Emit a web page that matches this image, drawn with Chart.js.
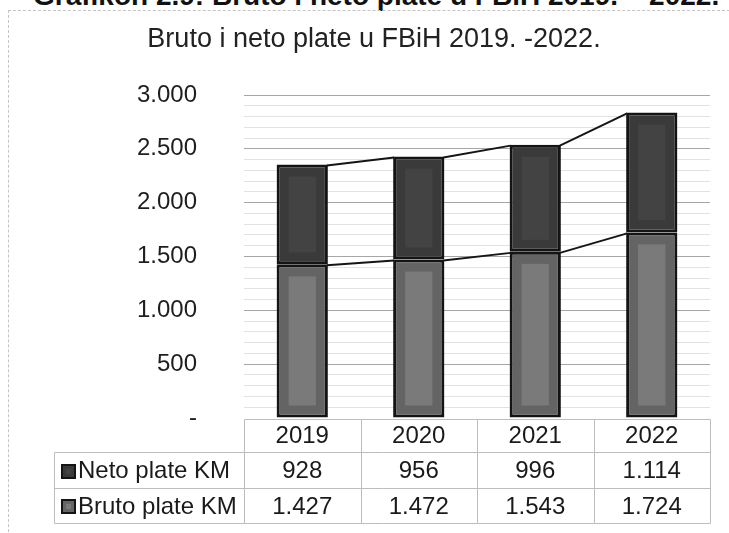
<!DOCTYPE html>
<html><head><meta charset="utf-8">
<script src="https://cdn.jsdelivr.net/npm/chart.js@4.4.0/dist/chart.umd.min.js"></script>
<style>
html,body{margin:0;padding:0;background:#fff;overflow:hidden;}
#wrap{position:relative;width:729px;height:533px;overflow:hidden;}
#frame{position:absolute;left:8px;top:10px;width:760px;height:560px;border:1px dashed #c4c4c4;}
#head{position:absolute;left:33px;top:-18px;font:bold 28px "Liberation Sans",Arial,sans-serif;line-height:28px;color:#111;white-space:nowrap;}
canvas{position:absolute;left:0;top:0;}
</style></head>
<body><div id="wrap"><div id="head">Grafikon 2.9: Bruto i neto plate u FBiH 2019. – 2022.</div><div id="frame"></div><canvas id="c" width="729" height="533" style="width:729px;height:533px"></canvas></div>
<script>
const categories = ['2019', '2020', '2021', '2022'];
const netoValues = [928, 956, 996, 1114];
const brutoValues = [1427, 1472, 1543, 1724];
const netoLabel = 'Neto plate KM';
const brutoLabel = 'Bruto plate KM';
const titleText = 'Bruto i neto plate u FBiH 2019. -2022.';
const yMin = 0, yMax = 3000, yMajorStep = 500, yMinorStep = 100;

const FONT = '"Liberation Sans", Arial, sans-serif';
function fmt(v) {
  if (v === 0) return '-';
  return String(v).replace(/\B(?=(\d{3})+(?!\d))/g, '.');
}

const chartTitle = {
  id: 'chartTitle',
  afterDraw(chart) {
    const ctx = chart.ctx;
    ctx.save();
    ctx.fillStyle = '#222';
    ctx.font = '27px ' + FONT;
    ctx.textAlign = 'center';
    ctx.textBaseline = 'middle';
    ctx.fillText(titleText, 374, 40);
    ctx.restore();
  }
};

const innerShade = {
  id: 'innerShade',
  afterDatasetsDraw(chart) {
    const ctx = chart.ctx;
    chart.data.datasets.forEach((ds, di) => {
      const meta = chart.getDatasetMeta(di);
      meta.data.forEach(el => {
        const p = el.getProps(['x', 'y', 'base', 'width'], true);
        const top = Math.min(p.y, p.base), h = Math.abs(p.base - p.y);
        const ix = 12, iy = 12;
        if (h > 2 * iy) {
          ctx.save();
          ctx.fillStyle = ds.innerColor;
          ctx.fillRect(p.x - p.width / 2 + ix, top + iy, p.width - 2 * ix, h - 2 * iy);
          ctx.restore();
        }
      });
    });
  }
};

const seriesLines = {
  id: 'seriesLines',
  afterDatasetsDraw(chart) {
    const ctx = chart.ctx;
    ctx.save();
    ctx.strokeStyle = '#151515';
    ctx.lineWidth = 2;
    chart.data.datasets.forEach((ds, di) => {
      const els = chart.getDatasetMeta(di).data;
      for (let i = 0; i < els.length - 1; i++) {
        const a = els[i].getProps(['x', 'y', 'width'], true);
        const b = els[i + 1].getProps(['x', 'y', 'width'], true);
        ctx.beginPath();
        ctx.moveTo(a.x + a.width / 2 - 1, a.y + 1);
        ctx.lineTo(b.x - b.width / 2 + 1, b.y + 1);
        ctx.stroke();
      }
    });
    ctx.restore();
  }
};

const dataTable = {
  id: 'dataTable',
  afterDraw(chart) {
    const ctx = chart.ctx;
    const area = chart.chartArea;
    const xs = chart.scales.x;
    const n = categories.length;
    const colW = (area.right - area.left) / n;
    const edges = [];
    for (let i = 0; i < n; i++) edges.push(xs.getPixelForValue(i) - colW / 2);
    edges.push(xs.getPixelForValue(n - 1) + colW / 2);
    const tableLeft = 54;
    const y0 = area.bottom + 1;
    const y1 = y0 + 33;
    const y2 = y1 + 36;
    const y3 = y2 + 35;
    ctx.save();
    ctx.strokeStyle = '#bdbdbd';
    ctx.lineWidth = 1;
    const line = (xa, ya, xb, yb) => { ctx.beginPath(); ctx.moveTo(Math.round(xa) + 0.5, Math.round(ya) + 0.5); ctx.lineTo(Math.round(xb) + 0.5, Math.round(yb) + 0.5); ctx.stroke(); };
    line(edges[0], y0, edges[n], y0);
    line(tableLeft, y1, edges[n], y1);
    line(tableLeft, y2, edges[n], y2);
    line(tableLeft, y3, edges[n], y3);
    line(tableLeft, y1, tableLeft, y3);
    edges.forEach(e => line(e, y0, e, y3));

    ctx.fillStyle = '#1a1a1a';
    ctx.font = '24px ' + FONT;
    ctx.textAlign = 'center';
    ctx.textBaseline = 'middle';
    categories.forEach((c, i) => ctx.fillText(c, xs.getPixelForValue(i), (y0 + y1) / 2 + 1));
    const rows = [
      { label: netoLabel, vals: netoValues, ds: chart.data.datasets[1], top: y1, bot: y2 },
      { label: brutoLabel, vals: brutoValues, ds: chart.data.datasets[0], top: y2, bot: y3 }
    ];
    rows.forEach(r => {
      const cy = (r.top + r.bot) / 2 + 1.5;
      ctx.fillStyle = '#1a1a1a';
      ctx.textAlign = 'center';
      r.vals.forEach((v, i) => ctx.fillText(fmt(v), xs.getPixelForValue(i), cy));
      ctx.textAlign = 'left';
      ctx.fillText(r.label, 78, cy);
      const kx = 61, ky = Math.round(cy - 8), ks = 15;
      ctx.fillStyle = '#141414';
      ctx.fillRect(kx, ky, ks, ks);
      ctx.fillStyle = r.ds.backgroundColor;
      ctx.fillRect(kx + 2, ky + 2, ks - 4, ks - 4);
      ctx.fillStyle = r.ds.innerColor;
      ctx.fillRect(kx + 5, ky + 5, ks - 10, ks - 10);
    });
    ctx.restore();
  }
};

new Chart(document.getElementById('c'), {
  type: 'bar',
  data: {
    labels: categories,
    datasets: [
      { label: brutoLabel, data: brutoValues, stack: 's', backgroundColor: '#646464', innerColor: '#7a7a7a', borderColor: '#141414', borderWidth: 3, borderSkipped: false },
      { label: netoLabel, data: netoValues, stack: 's', backgroundColor: '#3a3a3a', innerColor: '#434343', borderColor: '#141414', borderWidth: 3, borderSkipped: false }
    ]
  },
  options: {
    responsive: false,
    animation: false,
    events: [],
    layout: { padding: { left: 13, right: 19, top: 95, bottom: 115 } },
    datasets: { bar: { categoryPercentage: 1, barPercentage: 0.44 } },
    plugins: {
      legend: { display: false },
      tooltip: { enabled: false },
      title: { display: false }
    },
    scales: {
      x: { display: false, stacked: true, grid: { display: false } },
      y: {
        stacked: true, min: yMin, max: yMax,
        border: { display: false },
        afterFit(s) { s.width = 231; },
        grid: {
          drawTicks: false,
          color: ctx => (ctx.tick.value % yMajorStep === 0 ? (ctx.tick.value === 0 ? 'rgba(0,0,0,0)' : '#a6a6a6') : '#e2e2e2'),
          lineWidth: 1
        },
        ticks: {
          stepSize: yMinorStep, padding: 47, color: '#1e1e1e',
          font: { family: FONT, size: 24 },
          autoSkip: false,
          callback: v => (v % yMajorStep === 0 ? fmt(v) : '')
        }
      }
    }
  },
  plugins: [innerShade, seriesLines, dataTable, chartTitle]
});
</script>
</body></html>
